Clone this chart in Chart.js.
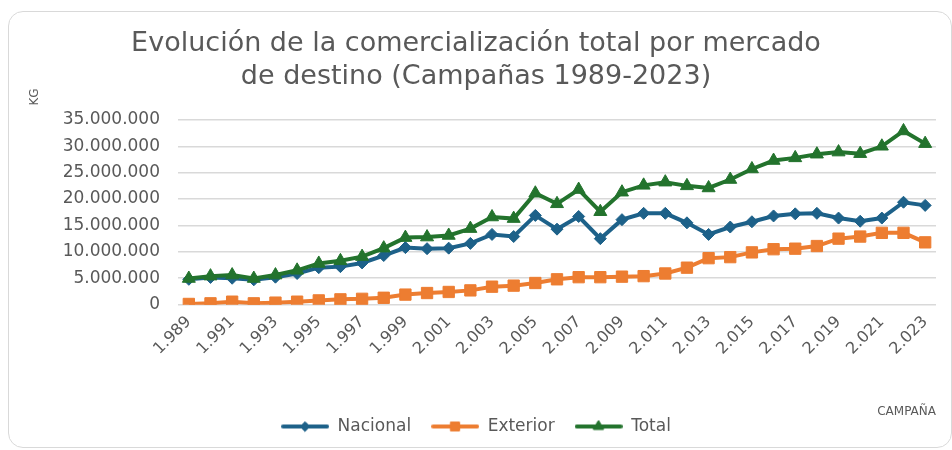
<!DOCTYPE html>
<html>
<head>
<meta charset="utf-8">
<script src="https://cdn.jsdelivr.net/npm/chart.js@4.4.1/dist/chart.umd.min.js"></script>
<style>
  html, body { margin: 0; padding: 0; background: #fff; overflow: hidden; }
  #wrap { position: relative; width: 952px; height: 450px; }
  #card {
    position: absolute; left: 8px; top: 11px; width: 942px; height: 435px;
    border: 1.5px solid #d9d9d9; border-radius: 15px; pointer-events: none;
  }
  canvas { position: absolute; left: 0; top: 0; }
</style>
</head>
<body>
<div id="wrap">
  <canvas id="chart" width="952" height="450"></canvas>
  <div id="card"></div>
</div>
<script>
// ================= DATOS =================
const campanas = [1989, 1990, 1991, 1992, 1993, 1994, 1995, 1996, 1997, 1998,
  1999, 2000, 2001, 2002, 2003, 2004, 2005, 2006, 2007, 2008,
  2009, 2010, 2011, 2012, 2013, 2014, 2015, 2016, 2017, 2018,
  2019, 2020, 2021, 2022, 2023];

// kg comercializados
const nacional = [4800000, 5150000, 5000000, 4700000, 5200000, 5900000, 7000000, 7200000, 7900000, 9300000,
  10800000, 10600000, 10700000, 11600000, 13300000, 12900000, 16900000, 14300000, 16700000, 12500000,
  16100000, 17300000, 17300000, 15500000, 13300000, 14700000, 15700000, 16800000, 17200000, 17300000,
  16400000, 15800000, 16400000, 19400000, 18800000];

const exterior = [130000, 250000, 560000, 250000, 380000, 560000, 800000, 1000000, 1100000, 1300000,
  1900000, 2200000, 2400000, 2700000, 3400000, 3600000, 4100000, 4800000, 5200000, 5200000,
  5300000, 5400000, 5900000, 7000000, 8800000, 9000000, 9900000, 10500000, 10600000, 11100000,
  12500000, 12900000, 13600000, 13600000, 11800000];

const total = [4950000, 5400000, 5600000, 4950000, 5600000, 6500000, 7800000, 8300000, 9100000, 10700000,
  12700000, 12800000, 13100000, 14400000, 16600000, 16300000, 21100000, 19100000, 21800000, 17600000,
  21300000, 22600000, 23200000, 22500000, 22100000, 23700000, 25700000, 27300000, 27800000, 28500000,
  28900000, 28600000, 30000000, 32900000, 30500000];

const yTicks = [0, 5000000, 10000000, 15000000, 20000000, 25000000, 30000000, 35000000];

// ================= ESTILO =================
const COLOR_NAC = "#1d6189";
const COLOR_EXT = "#ed7d31";
const COLOR_TOT = "#23732d";
const TEXT = "#595959";

// separador de miles con punto
function puntos(n) {
  return String(n).replace(/\B(?=(\d{3})+(?!\d))/g, ".");
}

Chart.defaults.font.family = "'DejaVu Sans', sans-serif";
Chart.defaults.color = TEXT;

// icono de leyenda: linea con marcador en medio
function legendIcon(color, style, radius) {
  const c = document.createElement("canvas");
  c.width = 48;
  c.height = 14;
  const ctx = c.getContext("2d");
  ctx.strokeStyle = color;
  ctx.lineWidth = 4;
  ctx.lineCap = "round";
  ctx.beginPath();
  ctx.moveTo(2, 7);
  ctx.lineTo(46, 7);
  ctx.stroke();
  ctx.fillStyle = color;
  ctx.lineWidth = 1;
  Chart.helpers.drawPoint(ctx, { pointStyle: style, radius: radius, borderWidth: 1 }, 24, 7);
  ctx.fill();
  ctx.stroke();
  return c;
}

function serie(label, data, color, style, radius, order) {
  return {
    label: label,
    data: data,
    borderColor: color,
    backgroundColor: color,
    borderWidth: 4,
    pointStyle: style,
    pointRadius: radius,
    pointBorderWidth: 1,
    pointBackgroundColor: color,
    pointBorderColor: color,
    tension: 0,
    order: order,
    icon: legendIcon(color, style, radius * 0.75)
  };
}

// titulo "KG" arriba a la izquierda del eje vertical
const kgTitle = {
  id: "kgTitle",
  afterDraw(chart) {
    const c = chart.ctx;
    c.save();
    c.translate(35, 97);
    c.rotate(-Math.PI / 2);
    c.font = "12px 'DejaVu Sans', sans-serif";
    c.fillStyle = TEXT;
    c.textAlign = "center";
    c.textBaseline = "middle";
    c.fillText("KG", 0, 0);
    c.restore();
  }
};

const ctx = document.getElementById("chart").getContext("2d");

new Chart(ctx, {
  type: "line",
  data: {
    labels: campanas.map(puntos),
    datasets: [
      serie("Nacional", nacional, COLOR_NAC, "rectRot", 6, 2),
      serie("Exterior", exterior, COLOR_EXT, "rect", 8, 1),
      serie("Total", total, COLOR_TOT, "triangle", 7.5, 0)
    ]
  },
  plugins: [kgTitle],
  options: {
    responsive: false,
    animation: false,
    layout: { padding: { left: 16, right: 16, top: 0, bottom: 5 } },
    plugins: {
      title: {
        display: true,
        text: ["Evolución de la comercialización total por mercado", "de destino (Campañas 1989-2023)"],
        color: TEXT,
        font: { size: 27, weight: "normal", lineHeight: 1.22 },
        padding: { top: 28, bottom: 26 }
      },
      legend: {
        position: "bottom",
        labels: {
          usePointStyle: true,
          pointStyleWidth: 48,
          padding: 20,
          color: TEXT,
          font: { size: 17 },
          sort: (a, b) => a.datasetIndex - b.datasetIndex,
          generateLabels: (chart) => chart.data.datasets.map((ds, i) => ({
            text: ds.label,
            pointStyle: ds.icon,
            fillStyle: ds.borderColor,
            strokeStyle: ds.borderColor,
            lineWidth: 0,
            fontColor: TEXT,
            datasetIndex: i,
            hidden: !chart.isDatasetVisible(i)
          }))
        }
      },
      tooltip: { enabled: false }
    },
    scales: {
      x: {
        offset: true,
        grid: { display: false, drawTicks: false },
        border: { display: false },
        ticks: {
          autoSkip: false,
          maxRotation: 45,
          minRotation: 45,
          padding: 8,
          font: { size: 16 },
          callback: function (val, i) {
            return i % 2 === 0 ? this.getLabelForValue(val) : "";
          }
        },
        title: {
          display: true,
          text: "CAMPAÑA",
          align: "end",
          font: { size: 12 },
          padding: { top: 38, bottom: -21 }
        }
      },
      y: {
        min: 0,
        max: 35000000,
        afterBuildTicks: (axis) => { axis.ticks = yTicks.map(v => ({ value: v })); },
        afterFit: (axis) => { axis.width = 162; },
        grid: { color: "#d9d9d9", lineWidth: 1.5, drawTicks: false },
        border: { display: false },
        ticks: {
          padding: 18,
          font: { size: 17 },
          callback: (v) => puntos(v)
        }
      }
    }
  }
});
</script>
</body>
</html>
